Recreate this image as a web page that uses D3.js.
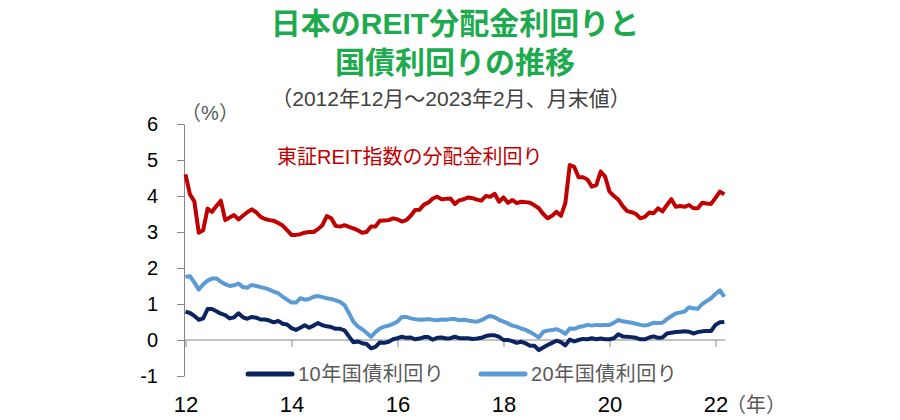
<!DOCTYPE html>
<html>
<head>
<meta charset="utf-8">
<script src="https://cdn.jsdelivr.net/npm/d3@7"></script>
<style>
  body { margin: 0; background: #fff; }
  svg { display: block; font-family: "Liberation Sans", Arial, "Noto Sans CJK JP", sans-serif; }
  .axis path, .axis line { stroke: #868686; }
  .axis text { fill: #000; }
</style>
</head>
<body>
<svg id="chart" width="900" height="420"></svg>
<script>
// month-end values, 2012/12 .. 2023/02 (123 months)
const tickMonths = [0, 24, 48, 72, 96, 120];
const tickLabels = ["12", "14", "16", "18", "20", "22"];
const yTicks = [-1, 0, 1, 2, 3, 4, 5, 6];

// TSE REIT index dividend yield (%)
const reitYield = [
  4.60, 4.05, 3.85, 2.98, 3.05, 3.65, 3.56, 3.72, 3.87, 3.33, 3.40, 3.47,
  3.35, 3.45, 3.55, 3.63, 3.55, 3.42, 3.36, 3.33, 3.31, 3.25, 3.18, 3.05,
  2.92, 2.92, 2.94, 2.98, 3.00, 3.00, 3.08, 3.19, 3.44, 3.38, 3.17, 3.15,
  3.19, 3.14, 3.10, 3.05, 2.98, 3.00, 3.15, 3.15, 3.31, 3.32, 3.33, 3.38,
  3.35, 3.29, 3.33, 3.45, 3.61, 3.62, 3.76, 3.82, 3.93, 3.98, 3.91, 3.92,
  3.93, 3.78, 3.88, 3.91, 3.96, 3.94, 3.90, 3.87, 4.00, 3.98, 4.06, 3.84,
  3.96, 3.81, 3.89, 3.80, 3.84, 3.83, 3.81, 3.74, 3.66, 3.50, 3.38, 3.45,
  3.56, 3.45, 3.80, 4.86, 4.81, 4.52, 4.52, 4.46, 4.26, 4.30, 4.68, 4.54,
  4.12, 4.00, 3.90, 3.72, 3.58, 3.55, 3.50, 3.38, 3.42, 3.54, 3.52, 3.66,
  3.57, 3.75, 3.91, 3.70, 3.72, 3.70, 3.75, 3.66, 3.66, 3.81, 3.79, 3.78,
  3.95, 4.12, 4.05
];

// 10-year JGB yield (%)
const jgb10 = [
  0.79, 0.75, 0.67, 0.56, 0.60, 0.86, 0.86, 0.80, 0.73, 0.69, 0.60, 0.63,
  0.74, 0.63, 0.59, 0.64, 0.62, 0.57, 0.57, 0.54, 0.49, 0.53, 0.45, 0.43,
  0.33, 0.28, 0.34, 0.41, 0.34, 0.40, 0.47, 0.41, 0.38, 0.36, 0.31, 0.31,
  0.27, 0.10, -0.06, -0.04, -0.09, -0.11, -0.23, -0.19, -0.07, -0.08, -0.05, 0.02,
  0.05, 0.09, 0.06, 0.07, 0.02, 0.04, 0.08, 0.08, 0.01, 0.06, 0.07, 0.04,
  0.05, 0.09, 0.05, 0.05, 0.05, 0.03, 0.04, 0.06, 0.11, 0.13, 0.13, 0.09,
  0.00, 0.00, -0.03, -0.08, -0.05, -0.09, -0.16, -0.16, -0.28, -0.21, -0.14, -0.08,
  -0.02, -0.06, -0.15, 0.01, -0.04, 0.00, 0.03, 0.02, 0.05, 0.02, 0.04, 0.02,
  0.02, 0.05, 0.16, 0.10, 0.09, 0.08, 0.06, 0.02, 0.02, 0.07, 0.10, 0.06,
  0.07, 0.18, 0.20, 0.22, 0.23, 0.24, 0.23, 0.18, 0.22, 0.24, 0.25, 0.25,
  0.42, 0.49, 0.50
];

// 20-year JGB yield (%)
const jgb20 = [
  1.76, 1.77, 1.60, 1.40, 1.55, 1.65, 1.71, 1.71, 1.62, 1.55, 1.50, 1.52,
  1.57, 1.47, 1.45, 1.53, 1.50, 1.47, 1.44, 1.40, 1.34, 1.30, 1.20, 1.12,
  1.04, 1.04, 1.16, 1.12, 1.14, 1.20, 1.22, 1.19, 1.16, 1.14, 1.10, 1.06,
  0.97, 0.75, 0.51, 0.38, 0.30, 0.20, 0.09, 0.22, 0.32, 0.37, 0.40, 0.45,
  0.51, 0.64, 0.64, 0.60, 0.58, 0.56, 0.57, 0.58, 0.56, 0.55, 0.57, 0.56,
  0.58, 0.58, 0.55, 0.56, 0.54, 0.52, 0.51, 0.55, 0.62, 0.67, 0.63, 0.56,
  0.51, 0.46, 0.40, 0.37, 0.32, 0.28, 0.22, 0.15, 0.07, 0.23, 0.26, 0.28,
  0.30, 0.25, 0.17, 0.32, 0.31, 0.36, 0.38, 0.42, 0.40, 0.42, 0.41, 0.42,
  0.42, 0.48, 0.56, 0.52, 0.50, 0.48, 0.45, 0.42, 0.40, 0.43, 0.48, 0.47,
  0.48, 0.58, 0.66, 0.74, 0.76, 0.79, 0.91, 0.88, 0.87, 1.00, 1.08, 1.16,
  1.28, 1.38, 1.20
];

const series = [
  { name: "東証REIT指数の分配金利回り", values: reitYield, color: "#c00000" },
  { name: "10年国債利回り", values: jgb10, color: "#0b2461" },
  { name: "20年国債利回り", values: jgb20, color: "#5b9bd5" }
];

const svg = d3.select("#chart");

const x = d3.scaleLinear().domain([0, 120]).range([185.5, 715.5]);
const y = d3.scaleLinear().domain([-1, 6]).range([376, 124]);

// titles
const titleColor = "#1eaa4e";
svg.append("text")
  .attr("x", 455).attr("y", 23)
  .attr("text-anchor", "middle")
  .attr("dominant-baseline", "central")
  .attr("fill", titleColor)
  .attr("font-size", 30).attr("font-weight", "bold")
  .text("日本のREIT分配金利回りと");
svg.append("text")
  .attr("x", 455).attr("y", 62)
  .attr("text-anchor", "middle")
  .attr("dominant-baseline", "central")
  .attr("fill", titleColor)
  .attr("font-size", 30).attr("font-weight", "bold")
  .text("国債利回りの推移");
svg.append("text")
  .attr("x", 451).attr("y", 98)
  .attr("text-anchor", "middle")
  .attr("dominant-baseline", "central")
  .attr("fill", "#404040")
  .attr("font-size", 21)
  .text("（2012年12月～2023年2月、月末値）");

// y axis
svg.append("g")
  .attr("class", "axis")
  .attr("transform", "translate(184,0)")
  .call(d3.axisLeft(y).tickValues(yTicks).tickSize(7).tickSizeOuter(0).tickPadding(19).tickFormat(d => String(d)))
  .call(g => g.selectAll("text").attr("font-size", 20).attr("font-family", "Liberation Sans, Arial, sans-serif"));

// x axis on the zero line, labels pushed down to the bottom
svg.append("g")
  .attr("class", "axis")
  .attr("transform", `translate(0,${y(0)})`)
  .call(d3.axisBottom(x).tickValues(tickMonths).tickSize(7).tickSizeOuter(0).tickPadding(49)
    .tickFormat((d, i) => tickLabels[i]))
  .call(g => g.select(".domain").attr("d", `M184,0H${x(122) + 1}`))
  .call(g => g.selectAll("text").attr("font-size", 22).attr("font-family", "Liberation Sans, Arial, sans-serif"));

// unit labels
svg.append("text")
  .attr("x", 210).attr("y", 113)
  .attr("text-anchor", "middle")
  .attr("dominant-baseline", "central")
  .attr("fill", "#595959").attr("font-size", 20)
  .text("（%）");
svg.append("text")
  .attr("x", 756).attr("y", 405)
  .attr("text-anchor", "middle")
  .attr("dominant-baseline", "central")
  .attr("fill", "#595959").attr("font-size", 20)
  .text("（年）");

// lines
const line = d3.line()
  .x((d, i) => x(i))
  .y(d => y(d));

svg.selectAll("path.series").data(series.slice().reverse())
  .join("path")
  .attr("class", "series")
  .attr("fill", "none")
  .attr("stroke", d => d.color)
  .attr("stroke-width", 4)
  .attr("stroke-linejoin", "round")
  .attr("d", d => line(d.values));

// REIT label
svg.append("text")
  .attr("x", 277).attr("y", 157)
  .attr("dominant-baseline", "central")
  .attr("fill", series[0].color)
  .attr("font-size", 20)
  .text(series[0].name);

// legend
const legendItems = [
  { s: series[1], x0: 248 },
  { s: series[2], x0: 481 }
];
legendItems.forEach(item => {
  svg.append("line")
    .attr("x1", item.x0).attr("x2", item.x0 + 44)
    .attr("y1", 374).attr("y2", 374)
    .attr("stroke", item.s.color)
    .attr("stroke-width", 5)
    .attr("stroke-linecap", "round");
  svg.append("text")
    .attr("x", item.x0 + 50).attr("y", 374)
    .attr("dominant-baseline", "central")
    .attr("fill", "#595959")
    .attr("font-size", 20)
    .attr("letter-spacing", 0.5)
    .text(item.s.name);
});
</script>
</body>
</html>
